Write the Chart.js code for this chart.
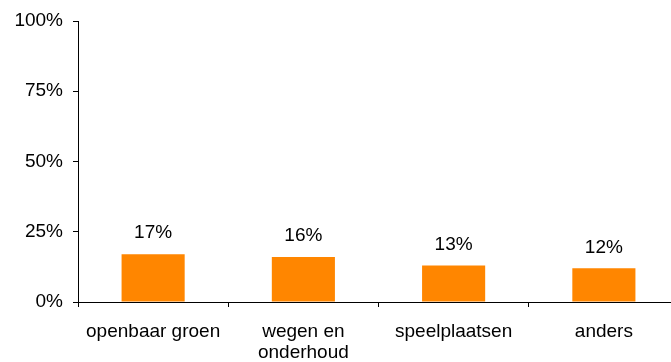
<!DOCTYPE html>
<html>
<head>
<meta charset="utf-8">
<script src="https://cdn.jsdelivr.net/npm/chart.js@4"></script>
<style>
  html, body { margin: 0; padding: 0; background: #fff; overflow: hidden; }
  #wrap { width: 680px; height: 362px; }
</style>
</head>
<body>
<div id="wrap"><canvas id="myBarChart"></canvas></div>
<script>
// categorieën en percentages
const categories = ['openbaar groen', ['wegen en', 'onderhoud'], 'speelplaatsen', 'anders'];
const percentages = [17, 16, 13, 12];
const yTicks = [0, 25, 50, 75, 100];

const FONT = { family: '"Liberation Sans", Arial, sans-serif', size: 19, lineHeight: 1.1 };

// percentage boven elke balk tekenen
const valueLabels = {
  id: 'valueLabels',
  afterDatasetsDraw(chart) {
    const ctx = chart.ctx;
    const meta = chart.getDatasetMeta(0);
    ctx.save();
    ctx.font = FONT.size + 'px ' + FONT.family;
    ctx.fillStyle = '#000';
    ctx.textAlign = 'center';
    ctx.textBaseline = 'middle';
    meta.data.forEach((bar, i) => {
      ctx.fillText(percentages[i] + '%', bar.x, bar.y - 21);
    });
    ctx.restore();
  }
};

const ctx = document.getElementById('myBarChart').getContext('2d');
const myChart = new Chart(ctx, {
  type: 'bar',
  data: {
    labels: categories,
    datasets: [{
      data: percentages,
      backgroundColor: '#FF8600',
      categoryPercentage: 1,
      barPercentage: 0.42
    }]
  },
  options: {
    responsive: true,
    maintainAspectRatio: false,
    animation: false,
    layout: { padding: { top: 21, right: 1, left: 0, bottom: 0 } },
    plugins: {
      legend: { display: false },
      tooltip: { enabled: false }
    },
    scales: {
      x: {
        afterFit(axis) { axis.height = 60; },
        grid: { display: true, drawOnChartArea: false, offset: true, tickLength: 5, color: '#000' },
        border: { color: '#000' },
        ticks: { color: '#000', font: FONT, padding: 14, maxRotation: 0, autoSkip: false }
      },
      y: {
        min: 0,
        max: 100,
        afterBuildTicks(axis) {
          axis.ticks = yTicks.map(v => ({ value: v }));
        },
        afterFit(axis) { axis.width = 78; },
        grid: { display: true, drawOnChartArea: false, tickLength: 5, color: '#000' },
        border: { color: '#000' },
        ticks: {
          color: '#000',
          font: FONT,
          padding: 10,
          callback: v => v + '%'
        }
      }
    }
  },
  plugins: [valueLabels]
});
</script>
</body>
</html>
